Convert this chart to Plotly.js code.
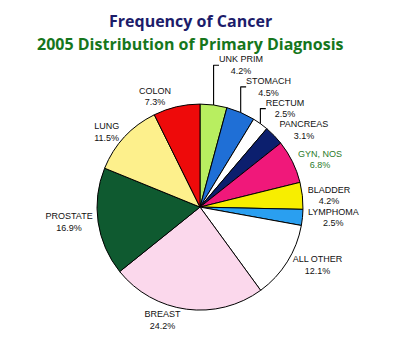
<!DOCTYPE html>
<html>
<head>
<meta charset="utf-8">
<script src="https://cdn.plot.ly/plotly-3.0.1.min.js"></script>
<style>html,body{margin:0;padding:0;background:#fff;}#chart{width:400px;height:354px;}</style>
</head>
<body>
<div id="chart"></div>
<script>
var categories = ["UNK PRIM", "STOMACH", "RECTUM", "PANCREAS", "GYN, NOS", "BLADDER", "LYMPHOMA", "ALL OTHER", "BREAST", "PROSTATE", "LUNG", "COLON"];
var percents = [4.2, 4.5, 2.5, 3.1, 6.8, 4.2, 2.5, 12.1, 24.2, 16.9, 11.5, 7.3];
var sliceColors = ["#b8ee60", "#1f6fd6", "#ffffff", "#0c1f6e", "#f0187a", "#f7ee00", "#2a9ff0", "#ffffff", "#fbd8ec", "#0f5a30", "#fdf08c", "#ee0a0a"];
var labelColors = ["#111", "#111", "#111", "#111", "#2a7a2a", "#111", "#111", "#111", "#111", "#111", "#111", "#111"];
var titleLines = ["Frequency of Cancer", "2005 Distribution of Primary Diagnosis"];

var trace = {
  type: "pie",
  labels: categories,
  values: percents,
  sort: false,
  direction: "clockwise",
  rotation: 0,
  marker: {colors: sliceColors, line: {color: "#000", width: 1}},
  textposition: "outside",
  texttemplate: "%{label}<br>%{value:.1f}%",
  outsidetextfont: {family: "Liberation Sans, Arial, sans-serif", size: 9, color: labelColors},
  hoverinfo: "label+value",
  domain: {x: [0.2425, 0.7575], y: [0.124, 0.706]},
  showlegend: false
};

var layout = {
  width: 400, height: 354,
  margin: {l: 0, r: 0, t: 0, b: 0},
  paper_bgcolor: "#fff",
  showlegend: false,
  annotations: [
    {text: titleLines[0], xref: "paper", yref: "paper", x: 0.475, y: 1 - 21/354, xanchor: "center", yanchor: "middle", showarrow: false,
     font: {family: "Open Sans, sans-serif", size: 16, weight: "bold", color: "#1c1c6a"}},
    {text: titleLines[1], xref: "paper", yref: "paper", x: 0.475, y: 1 - 44/354, xanchor: "center", yanchor: "middle", showarrow: false,
     font: {family: "Open Sans, sans-serif", size: 16, weight: "bold", color: "#16761c"}}
  ]
};

Plotly.newPlot("chart", [trace], layout, {displayModeBar: false, staticPlot: true});
</script>
</body>
</html>
